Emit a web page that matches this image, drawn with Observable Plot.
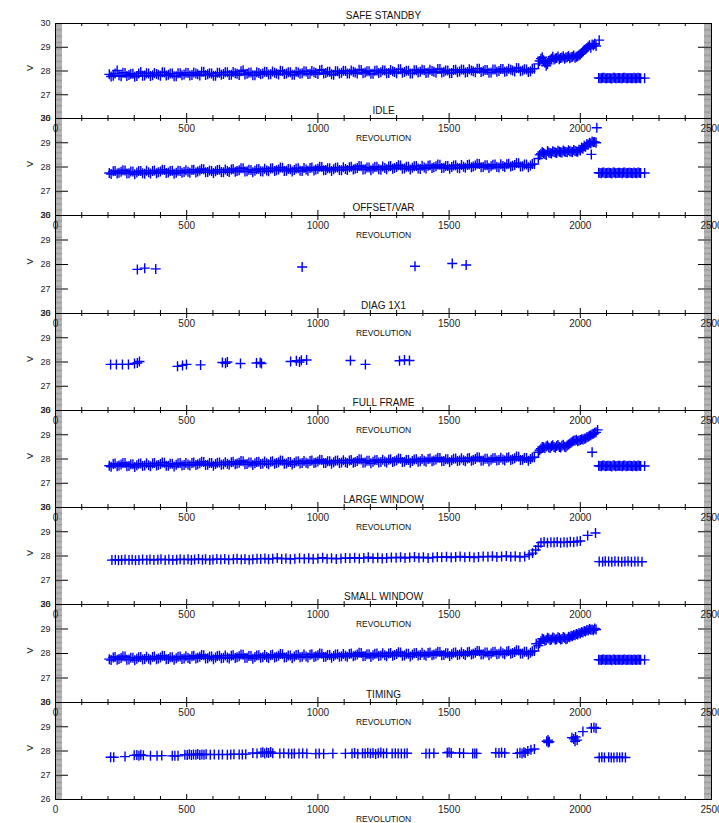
<!DOCTYPE html>
<html><head><meta charset="utf-8">
<script src="https://cdn.jsdelivr.net/npm/d3@7"></script>
<script src="https://cdn.jsdelivr.net/npm/@observablehq/plot@0.6"></script>
<style>
html,body{margin:0;padding:0;background:#fff;}
#chart{position:relative;width:719px;height:823px;overflow:hidden;background:#fff;}
#chart svg{position:absolute;left:0;overflow:visible;background:transparent !important;}
</style></head><body><div id="chart"></div>
<script>
// ---------- tick labels ----------
const xMajor = [0, 500, 1000, 1500, 2000, 2500];
const yMajor = [26, 27, 28, 29, 30];
const titles = ["SAFE STANDBY", "IDLE", "OFFSET/VAR", "DIAG 1X1", "FULL FRAME", "LARGE WINDOW", "SMALL WINDOW", "TIMING"];

// ---------- dense modes: first revolution grid ----------
const denseRev = [205,220,235,250,265,280,295,310,325,340,
355,370,385,400,415,430,445,460,475,490,
505,520,535,550,565,580,595,610,625,640,
655,670,685,700,715,730,745,760,775,790,
805,820,835,850,865,880,895,910,925,940,
955,970,985,1000,1015,1030,1045,1060,1075,1090,
1105,1120,1135,1150,1165,1180,1195,1210,1225,1240,
1255,1270,1285,1300,1315,1330,1345,1360,1375,1390,
1405,1420,1435,1450,1465,1480,1495,1510,1525,1540,
1555,1570,1585,1600,1615,1630,1645,1660,1675,1690,
1705,1720,1735,1750,1765,1780,1795,1810,1825,
1840,1850,1860,1870,1880,1890,1900,1910,1920,1930,1940,1950,1960,1970,1980,1990,2000,2010,2020,2030,2040,2050,2060,
2070,2080,2090,2100,2110,2120,2130,2140,2150,2160,2170,2180,2190,2200,2210,2220,2230,2245];

// ---------- dense modes: second revolution grid ----------
const denseRev2 = [212,227,242,257,272,287,302,317,332,347,
362,377,392,407,422,437,452,467,482,497,
512,527,542,557,572,587,602,617,632,647,
662,677,692,707,722,737,752,767,782,797,
812,827,842,857,872,887,902,917,932,947,
962,977,992,1007,1022,1037,1052,1067,1082,1097,
1112,1127,1142,1157,1172,1187,1202,1217,1232,1247,
1262,1277,1292,1307,1322,1337,1352,1367,1382,1397,
1412,1427,1442,1457,1472,1487,1502,1517,1532,1547,
1562,1577,1592,1607,1622,1637,1652,1667,1682,1697,
1712,1727,1742,1757,1772,1787,1802,1817,
1845,1855,1865,1875,1885,1895,1905,1915,1925,1935,1945,1955,1965,1975,1985,1995,2005,2015,2025,2035,2045,2055,
2075,2085,2095,2105,2115,2125,2135,2145,2155,2165,2175,2185,2195,2205,2215,2225];

const safeV = [27.86,27.80,28.02,27.78,27.92,27.83,27.88,27.79,27.96,27.81,
27.90,27.82,27.87,27.80,27.94,27.84,27.89,27.78,27.91,27.85,
27.92,27.83,27.90,27.81,27.97,27.86,27.89,27.80,27.93,27.87,
27.95,27.84,27.91,27.83,28.03,27.88,27.94,27.82,27.92,27.89,
27.96,27.86,27.93,27.85,27.99,27.90,27.95,27.84,27.94,27.91,
27.98,27.88,27.95,27.87,28.05,27.92,27.97,27.84,27.99,27.93,
28.00,27.90,27.97,27.89,28.04,27.94,27.99,27.88,28.02,27.95,
28.02,27.92,27.99,27.91,28.07,27.96,28.01,27.90,28.03,27.97,
28.03,27.94,28.00,27.93,28.08,27.97,28.02,27.92,28.05,27.98,
28.05,27.96,28.02,27.95,28.10,27.99,28.04,27.94,28.06,28.00,
28.08,27.99,28.05,27.98,28.12,28.02,28.06,27.99,28.10,
28.30,28.52,28.45,28.22,28.40,28.52,28.48,28.55,28.50,28.57,28.52,28.58,28.54,28.60,28.56,28.62,28.70,28.82,28.92,29.02,28.98,29.08,29.05,
27.71,27.69,27.72,27.70,27.71,27.68,27.72,27.70,27.71,27.69,27.72,27.70,27.71,27.69,27.70,27.72,27.70,27.70];
const safeV2 = [27.77,27.90,27.82,27.93,27.79,27.87,27.76,27.89,27.80,27.91,
27.79,27.92,27.84,27.95,27.81,27.89,27.78,27.91,27.82,27.93,
27.81,27.94,27.86,27.97,27.83,27.91,27.80,27.93,27.84,27.95,
27.83,27.96,27.88,27.99,27.85,27.93,27.82,27.95,27.86,27.97,
27.85,27.98,27.90,28.01,27.87,27.95,27.84,27.97,27.88,27.99,
27.87,28.00,27.92,28.03,27.89,27.97,27.86,27.99,27.90,28.01,
27.89,28.02,27.94,28.05,27.91,27.99,27.88,28.01,27.92,28.03,
27.91,28.04,27.96,28.07,27.93,28.01,27.90,28.03,27.94,28.05,
27.92,28.05,27.97,28.08,27.94,28.02,27.91,28.04,27.95,28.06,
27.94,28.07,27.99,28.10,27.96,28.04,27.93,28.06,27.97,28.08,
27.97,28.10,28.02,28.13,27.99,28.07,27.96,28.09,
28.42,28.58,28.35,28.30,28.47,28.60,28.53,28.61,28.55,28.62,28.57,28.63,28.58,28.65,28.60,28.66,28.76,28.88,28.97,29.08,29.12,29.15,
27.70,27.72,27.69,27.71,27.70,27.72,27.69,27.71,27.70,27.72,27.69,27.71,27.70,27.72,27.69,27.71];

const idleV = [27.75,27.82,27.73,27.80,27.86,27.74,27.81,27.77,27.84,27.72,
27.78,27.83,27.74,27.81,27.88,27.77,27.85,27.76,27.84,27.79,
27.80,27.88,27.77,27.86,27.91,27.79,27.84,27.82,27.89,27.78,
27.84,27.90,27.80,27.87,27.95,27.82,27.88,27.85,27.92,27.81,
27.86,27.94,27.84,27.90,27.97,27.85,27.91,27.88,27.95,27.83,
27.90,27.96,27.86,27.93,28.00,27.88,27.95,27.91,27.98,27.87,
27.92,27.99,27.90,27.96,28.03,27.91,27.98,27.94,28.01,27.89,
27.96,28.02,27.93,28.00,28.06,27.94,28.01,27.97,28.04,27.92,
27.98,28.05,27.96,28.03,28.09,27.97,28.04,28.00,28.07,27.95,
28.01,28.08,27.99,28.06,28.12,28.00,28.07,28.03,28.10,27.98,
28.04,28.11,28.02,28.08,28.15,28.03,28.10,28.06,28.12,
28.35,28.55,28.58,28.50,28.60,28.56,28.62,28.58,28.63,28.60,28.64,28.61,28.65,28.62,28.66,28.63,28.68,28.75,28.84,28.92,28.97,29.02,29.00,
27.76,27.74,27.77,27.75,27.76,27.73,27.77,27.75,27.76,27.74,27.77,27.75,27.76,27.74,27.75,27.77,27.75,27.75];
const idleV2 = [27.71,27.84,27.76,27.87,27.73,27.81,27.70,27.83,27.74,27.85,
27.73,27.86,27.78,27.89,27.75,27.83,27.72,27.85,27.76,27.87,
27.76,27.89,27.81,27.92,27.78,27.86,27.75,27.88,27.79,27.90,
27.79,27.92,27.84,27.95,27.81,27.89,27.78,27.91,27.82,27.93,
27.82,27.95,27.87,27.98,27.84,27.92,27.81,27.94,27.85,27.96,
27.85,27.98,27.90,28.01,27.87,27.95,27.84,27.97,27.88,27.99,
27.88,28.01,27.93,28.04,27.90,27.98,27.87,28.00,27.91,28.02,
27.91,28.04,27.96,28.07,27.93,28.01,27.90,28.03,27.94,28.05,
27.94,28.07,27.99,28.10,27.96,28.04,27.93,28.06,27.97,28.08,
27.97,28.10,28.02,28.13,27.99,28.07,27.96,28.09,28.00,28.11,
28.00,28.13,28.05,28.16,28.02,28.10,27.99,28.12,
28.50,28.62,28.54,28.66,28.58,28.65,28.60,28.67,28.61,28.68,28.62,28.69,28.63,28.70,28.64,28.71,28.80,28.88,28.95,29.00,29.05,29.03,
27.75,27.77,27.74,27.76,27.75,27.77,27.74,27.76,27.75,27.77,27.74,27.76,27.75,27.77,27.74,27.76];

const fullV = [27.72,27.79,27.70,27.77,27.83,27.71,27.78,27.74,27.81,27.73,
27.74,27.81,27.73,27.79,27.85,27.72,27.80,27.76,27.83,27.75,
27.77,27.84,27.75,27.82,27.88,27.76,27.83,27.79,27.86,27.78,
27.80,27.87,27.78,27.85,27.91,27.79,27.86,27.82,27.89,27.81,
27.82,27.89,27.80,27.87,27.93,27.81,27.88,27.84,27.91,27.83,
27.85,27.92,27.83,27.90,27.96,27.84,27.91,27.87,27.94,27.86,
27.87,27.94,27.85,27.92,27.98,27.86,27.93,27.89,27.96,27.88,
27.90,27.97,27.88,27.95,28.01,27.89,27.96,27.92,27.99,27.91,
27.93,28.00,27.91,27.98,28.04,27.92,27.99,27.95,28.02,27.94,
27.95,28.02,27.93,28.00,28.06,27.94,28.01,27.97,28.04,27.96,
27.98,28.05,27.96,28.03,28.09,27.97,28.04,28.00,28.07,
28.28,28.42,28.48,28.52,28.47,28.53,28.49,28.54,28.50,28.55,28.51,28.56,28.64,28.72,28.76,28.73,28.78,28.80,28.85,28.92,28.98,29.04,29.10,
27.72,27.70,27.73,27.71,27.72,27.69,27.73,27.71,27.72,27.70,27.73,27.71,27.72,27.70,27.71,27.73,27.71,27.71];
const fullV2 = [27.68,27.81,27.73,27.84,27.70,27.78,27.67,27.80,27.71,27.82,
27.70,27.83,27.75,27.86,27.72,27.80,27.69,27.82,27.73,27.84,
27.73,27.86,27.78,27.89,27.75,27.83,27.72,27.85,27.76,27.87,
27.76,27.89,27.81,27.92,27.78,27.86,27.75,27.88,27.79,27.90,
27.78,27.91,27.83,27.94,27.80,27.88,27.77,27.90,27.81,27.92,
27.81,27.94,27.86,27.97,27.83,27.91,27.80,27.93,27.84,27.95,
27.83,27.96,27.88,27.99,27.85,27.93,27.82,27.95,27.86,27.97,
27.86,27.99,27.91,28.02,27.88,27.96,27.85,27.98,27.89,28.00,
27.89,28.02,27.94,28.05,27.91,27.99,27.88,28.01,27.92,28.03,
27.91,28.04,27.96,28.07,27.93,28.01,27.90,28.03,27.94,28.05,
27.94,28.07,27.99,28.10,27.96,28.04,27.93,28.06,
28.36,28.50,28.44,28.56,28.45,28.57,28.46,28.58,28.47,28.59,28.48,28.60,28.68,28.75,28.79,28.76,28.81,28.83,28.90,28.96,29.02,29.08,
27.71,27.73,27.70,27.72,27.71,27.73,27.70,27.72,27.71,27.73,27.70,27.72,27.71,27.73,27.70,27.72];

const smallV = [27.77,27.84,27.75,27.82,27.88,27.76,27.83,27.79,27.86,27.78,
27.79,27.86,27.77,27.84,27.90,27.78,27.85,27.81,27.88,27.80,
27.82,27.89,27.80,27.87,27.93,27.81,27.88,27.84,27.91,27.83,
27.84,27.91,27.82,27.89,27.95,27.83,27.90,27.86,27.93,27.85,
27.86,27.93,27.84,27.91,27.97,27.85,27.92,27.88,27.95,27.87,
27.88,27.95,27.86,27.93,27.99,27.87,27.94,27.90,27.97,27.89,
27.91,27.98,27.89,27.96,28.02,27.90,27.97,27.93,28.00,27.92,
27.93,28.00,27.91,27.98,28.04,27.92,27.99,27.95,28.02,27.94,
27.95,28.02,27.93,28.00,28.06,27.94,28.01,27.97,28.04,27.96,
27.98,28.05,27.96,28.03,28.09,27.97,28.04,28.00,28.07,27.99,
28.01,28.08,27.99,28.06,28.12,28.00,28.07,28.03,28.10,
28.32,28.50,28.58,28.55,28.61,28.57,28.62,28.58,28.63,28.59,28.64,28.60,28.66,28.70,28.74,28.78,28.82,28.86,28.90,28.94,28.97,28.95,28.98,
27.75,27.73,27.76,27.74,27.75,27.72,27.76,27.74,27.75,27.73,27.76,27.74,27.75,27.73,27.74,27.76,27.74,27.74];
const smallV2 = [27.73,27.86,27.78,27.89,27.75,27.83,27.72,27.85,27.76,27.87,
27.75,27.88,27.80,27.91,27.77,27.85,27.74,27.87,27.78,27.89,
27.78,27.91,27.83,27.94,27.80,27.88,27.77,27.90,27.81,27.92,
27.80,27.93,27.85,27.96,27.82,27.90,27.79,27.92,27.83,27.94,
27.82,27.95,27.87,27.98,27.84,27.92,27.81,27.94,27.85,27.96,
27.84,27.97,27.89,28.00,27.86,27.94,27.83,27.96,27.87,27.98,
27.87,28.00,27.92,28.03,27.89,27.97,27.86,27.99,27.90,28.01,
27.89,28.02,27.94,28.05,27.91,27.99,27.88,28.01,27.92,28.03,
27.91,28.04,27.96,28.07,27.93,28.01,27.90,28.03,27.94,28.05,
27.94,28.07,27.99,28.10,27.96,28.04,27.93,28.06,27.97,28.08,
27.97,28.10,28.02,28.13,27.99,28.07,27.96,28.09,
28.42,28.60,28.52,28.64,28.55,28.65,28.56,28.66,28.57,28.67,28.58,28.68,28.72,28.76,28.80,28.84,28.88,28.92,28.96,29.00,28.98,29.02,
27.74,27.76,27.73,27.75,27.74,27.76,27.73,27.75,27.74,27.76,27.73,27.75,27.74,27.76,27.73,27.75];

// isolated extra points of the dense modes
const safeExtraRev = [2072];          const safeExtraV = [29.30];
const idleExtraRev = [2042, 2063];    const idleExtraV = [28.52, 29.62];
const fullExtraRev = [2045, 2066];    const fullExtraV = [28.28, 29.20];
const smallExtraRev = [1832];         const smallExtraV = [28.40];

// ---------- sparse modes ----------
const offsetRev = [312, 340, 382, 940, 1370, 1512, 1565];
const offsetV   = [27.80, 27.85, 27.82, 27.90, 27.93, 28.04, 27.98];

const diagRev = [210,232,255,278,301,312,320,465,484,499,553,636,648,655,705,766,780,785,896,918,930,937,957,1124,1181,1311,1330,1349];
const diagV   = [27.90,27.90,27.90,27.90,27.94,27.96,28.02,27.82,27.86,27.90,27.88,27.98,27.95,28.00,27.94,27.96,27.98,27.94,28.02,28.05,28.00,28.07,28.08,28.06,27.90,28.05,28.08,28.06];

const largeRev = [215,228,240,252,265,280,292,305,318,332,348,360,375,390,402,418,432,447,462,475,490,505,518,530,545,560,572,588,600,615,630,645,660,678,692,708,722,738,752,768,782,798,812,828,845,862,878,895,912,930,948,965,982,1000,1018,1035,1052,1070,1088,1105,1122,1140,1158,1175,1192,1210,1228,1245,1262,1280,1298,1315,1332,1350,1368,1385,1402,1420,1438,1455,1472,1490,1508,1525,1542,1560,1578,1595,1612,1630,1648,1665,1682,1700,1718,1735,1752,1770,1788,
1805,1818,1830,1840,1850,1862,1875,1888,1900,1912,1925,1938,1950,1962,1975,1988,2000,2028,2058,
2072,2085,2095,2108,2120,2132,2145,2158,2170,2182,2195,2208,2220,2235];
const largeV = [27.83,27.85,27.82,27.84,27.86,27.83,27.85,27.82,27.84,27.86,
27.84,27.86,27.83,27.85,27.87,27.84,27.86,27.83,27.85,27.87,
27.85,27.87,27.84,27.86,27.88,27.85,27.87,27.84,27.86,27.88,
27.86,27.88,27.85,27.87,27.89,27.86,27.88,27.85,27.87,27.89,
27.88,27.90,27.87,27.89,27.92,27.88,27.90,27.87,27.89,27.91,
27.89,27.91,27.88,27.90,27.93,27.89,27.91,27.88,27.90,27.92,
27.91,27.93,27.90,27.92,27.95,27.91,27.93,27.90,27.92,27.94,
27.93,27.95,27.92,27.94,27.96,27.93,27.95,27.92,27.94,27.96,
27.95,27.97,27.94,27.96,27.98,27.95,27.97,27.94,27.96,27.98,
27.97,27.99,27.96,27.98,28.00,27.97,27.99,27.96,27.98,
28.05,28.12,28.25,28.40,28.55,28.58,28.55,28.57,28.56,28.58,28.55,28.57,28.56,28.59,28.57,28.60,28.62,28.85,28.95,
27.77,27.76,27.78,27.77,27.76,27.78,27.77,27.76,27.77,27.78,27.76,27.77,27.77,27.76];

const timingRev = [210,222,265,300,310,318,325,335,362,387,405,445,455,467,493,502,510,518,526,535,542,550,558,566,574,590,605,622,636,655,668,680,700,712,725,752,768,783,790,797,805,812,820,828,855,870,888,900,910,928,942,958,992,1005,1022,1057,1105,1130,1140,1152,1170,1180,1190,1200,1210,1220,1230,1240,1250,1262,1283,1295,1306,1318,1330,1340,1412,1425,1442,1493,1500,1508,1540,1555,1590,1598,1605,1678,1690,1700,1712,1760,1770,1778,1785,1790,1800,1812,1825,1872,1877,1882,1878,1968,1975,1982,1988,1980,2010,2042,2052,2060,2072,2082,2092,2108,2118,2128,2140,2150,2160,2172];
const timingV = [27.74,27.74,27.77,27.82,27.84,27.80,27.85,27.82,27.80,27.80,27.81,27.80,27.80,27.80,27.85,27.84,27.87,27.83,27.86,27.85,27.88,27.84,27.86,27.85,27.87,27.85,27.86,27.85,27.86,27.85,27.86,27.87,27.86,27.86,27.87,27.92,27.90,27.93,27.95,27.90,27.94,27.92,27.96,27.91,27.90,27.91,27.90,27.89,27.90,27.90,27.91,27.90,27.89,27.90,27.89,27.90,27.90,27.90,27.92,27.89,27.91,27.90,27.93,27.90,27.92,27.88,27.91,27.94,27.90,27.91,27.90,27.91,27.90,27.90,27.90,27.91,27.90,27.90,27.91,27.93,27.95,27.92,27.92,27.91,27.90,27.90,27.90,27.93,27.92,27.94,27.92,27.90,27.93,27.90,27.95,27.92,28.00,28.05,28.08,28.40,28.45,28.38,28.35,28.55,28.50,28.58,28.45,28.40,28.80,28.95,28.97,28.94,27.73,27.74,27.73,27.74,27.73,27.73,27.74,27.73,27.74,27.73];

// ---------- layout ----------
const panelTops = [23, 118, 215, 313, 410, 507, 604, 702, 799];
const series = [
  [[denseRev, safeV], [denseRev2, safeV2], [safeExtraRev, safeExtraV]],
  [[denseRev, idleV], [denseRev2, idleV2], [idleExtraRev, idleExtraV]],
  [[offsetRev, offsetV]],
  [[diagRev, diagV]],
  [[denseRev, fullV], [denseRev2, fullV2], [fullExtraRev, fullExtraV]],
  [[largeRev, largeV]],
  [[denseRev, smallV], [denseRev2, smallV2], [smallExtraRev, smallExtraV]],
  [[timingRev, timingV]]
];

const plusSymbol = {
  draw(ctx, size) {
    const r = Math.sqrt(size / Math.PI);
    ctx.moveTo(-r, 0); ctx.lineTo(r, 0);
    ctx.moveTo(0, -r); ctx.lineTo(0, r);
  }
};

const yMinor = d3.range(26, 30.0001, 0.05).map(v => +v.toFixed(2)).filter(v => !yMajor.includes(v));
const xMinor = d3.range(0, 2501, 100).filter(v => !xMajor.includes(v));

const FW = 656; // frame width
const font = "'Liberation Sans', Arial, sans-serif";
const chart = document.getElementById("chart");

titles.forEach((title, i) => {
  const top = panelTops[i], H = panelTops[i + 1] - top;
  const mt = 16, mb = 28;
  const pts = [];
  series[i].forEach(([revs, vals]) => revs.forEach((r, k) => pts.push({rev: r, v: vals[k]})));
  const tick = {stroke: "#000", strokeWidth: 1};
  const minorTick = {stroke: "#333", strokeWidth: 0.5};
  const svg = Plot.plot({
    width: 719, height: H + mt + mb,
    marginLeft: 55, marginRight: 8, marginTop: mt, marginBottom: mb,
    x: {domain: [0, 2500], axis: null},
    y: {domain: [26, 30], axis: null},
    style: {fontFamily: font, background: "transparent", overflow: "visible"},
    marks: [
      Plot.tickY(yMinor, {y: d => d, insetRight: FW - 7, ...minorTick}),
      Plot.tickY(yMinor, {y: d => d, insetLeft: FW - 7, ...minorTick}),
      Plot.tickY(yMajor, {y: d => d, insetRight: FW - 13, ...tick}),
      Plot.tickY(yMajor, {y: d => d, insetLeft: FW - 13, ...tick}),
      Plot.tickX(xMinor, {x: d => d, insetTop: H - 3, ...tick}),
      Plot.tickX(xMinor, {x: d => d, insetBottom: H - 3, ...tick}),
      Plot.tickX(xMajor, {x: d => d, insetTop: H - 5, ...tick}),
      Plot.tickX(xMajor, {x: d => d, insetBottom: H - 5, ...tick}),
      Plot.frame({stroke: "#000", strokeWidth: 1}),
      Plot.dot(pts, {x: "rev", y: "v", symbol: plusSymbol, r: 5, stroke: "#0000ff", fill: "none", strokeWidth: 1.4}),
      Plot.text(yMajor, {y: d => d, text: d => String(d), frameAnchor: "left", dx: -5, textAnchor: "end", lineAnchor: "middle", fontSize: 9, fill: "#222"}),
      Plot.text(["V"], {frameAnchor: "left", dx: -25, rotate: -90, lineAnchor: "middle", fontSize: 9, fill: "#222"}),
      Plot.text(xMajor, {x: d => d, text: d => String(d), frameAnchor: "bottom", dy: 10, lineAnchor: "middle", fontSize: 10, fill: "#222"}),
      Plot.text(["REVOLUTION"], {frameAnchor: "bottom", dy: 20, lineAnchor: "middle", fontSize: 8.5, fill: "#111"}),
      Plot.text([title], {frameAnchor: "top", dy: -8, lineAnchor: "middle", fontSize: 10, fill: "#111"})
    ]
  });
  svg.style.top = (top - mt) + "px";
  chart.appendChild(svg);
});
</script>
</body></html>
